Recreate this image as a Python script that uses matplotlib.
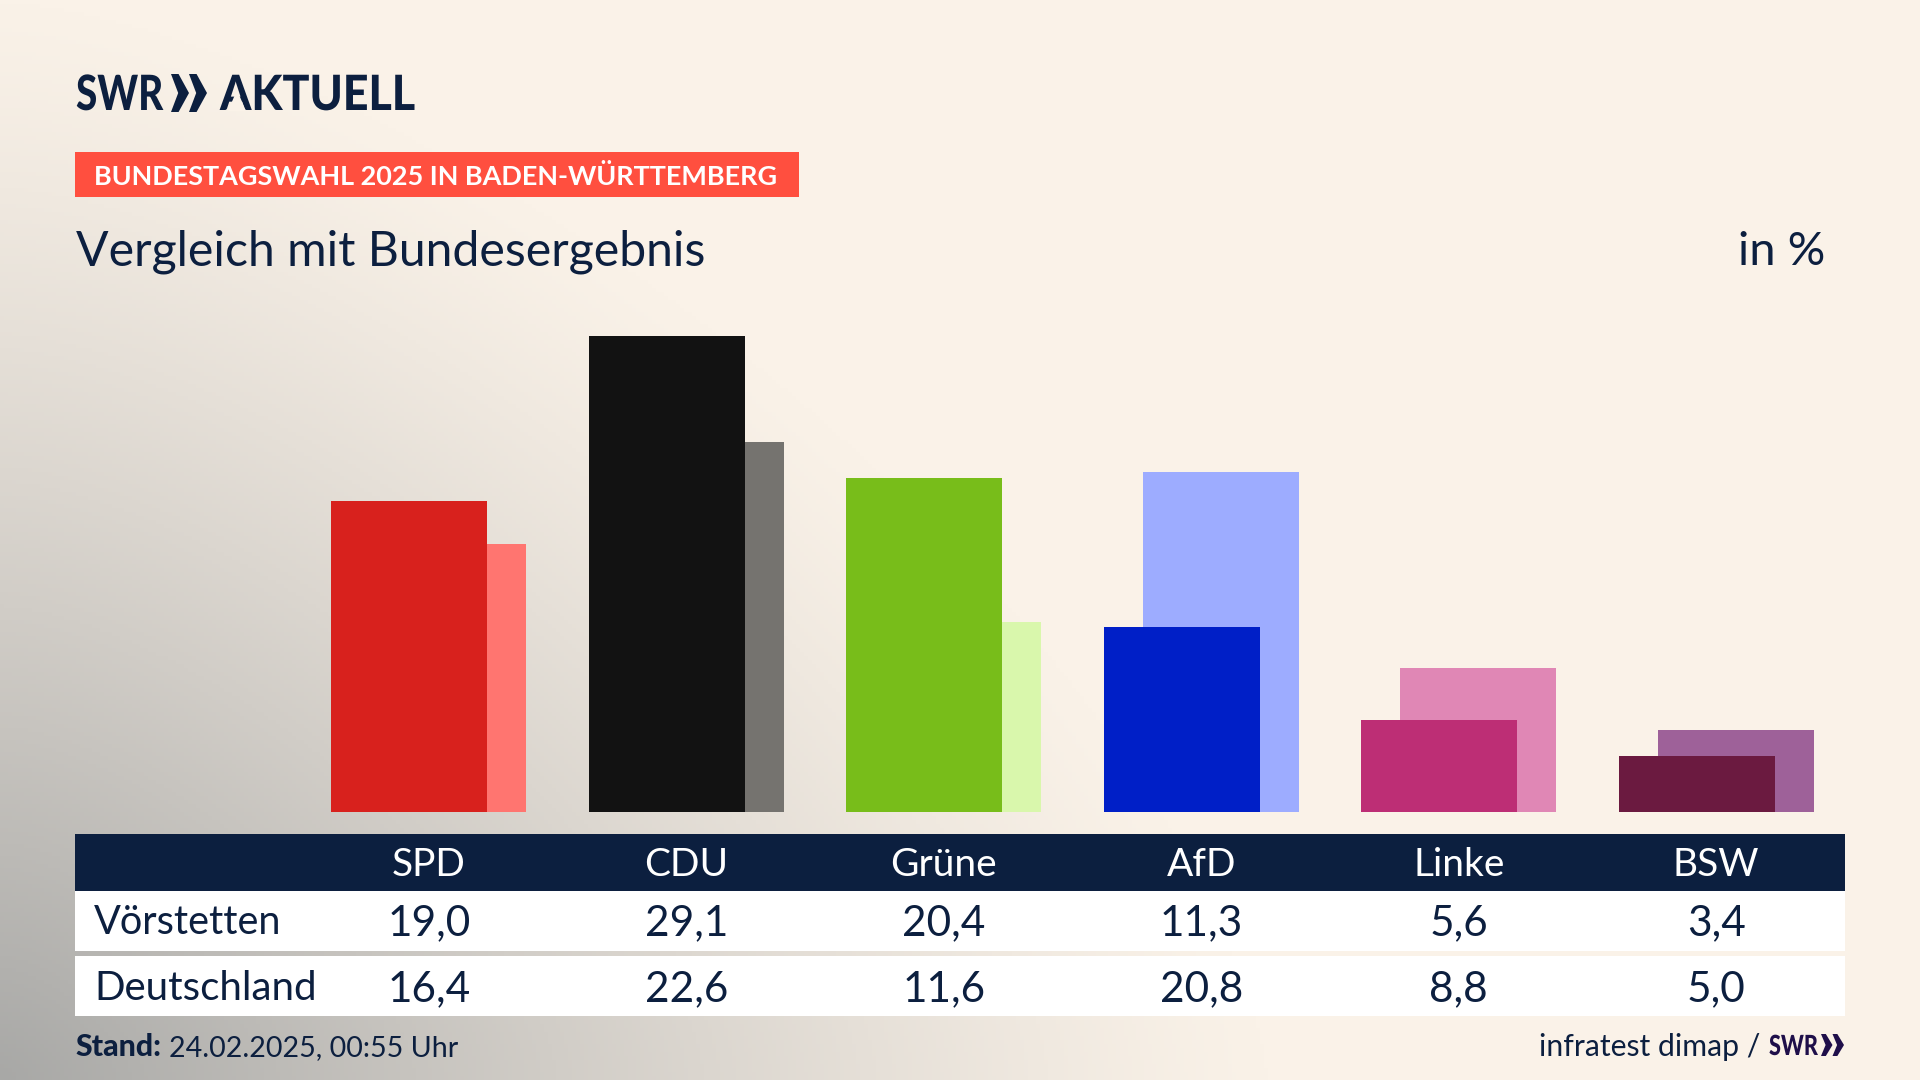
import numpy as np
import matplotlib
matplotlib.use("Agg")
import matplotlib.pyplot as plt
from matplotlib.patches import Rectangle, Polygon
from matplotlib.patheffects import AbstractPathEffect
from matplotlib.transforms import Affine2D, blended_transform_factory

# Data
parties = ["SPD", "CDU", "Grüne", "AfD", "Linke", "BSW"]
voerstetten = [19.0, 29.1, 20.4, 11.3, 5.6, 3.4]
deutschland = [16.4, 22.6, 11.6, 20.8, 8.8, 5.0]
colors_main = ["#d8211d", "#121212", "#78bd1a", "#001fc7", "#bd2e75", "#6b1a40"]
colors_light = ["#ff7570", "#75736f", "#d9f7ac", "#9dacff", "#e087b5", "#9e6199"]
row_labels = ["Vörstetten", "Deutschland"]

NAVY = "#0c1f3f"
CREAM = "#faf2e8"
W, H = 1920, 1080

plt.rcParams["font.family"] = ["Lato", "DejaVu Sans"]
fig = plt.figure(figsize=(W / 100, H / 100), dpi=100)


# Pixel helpers, y counted from the top like in the screenshot
def fx(x):
	return x / W


def fy(y):
	return 1 - y / H


def box(x0, y0, x1, y1, color):
	fig.add_artist(Rectangle((fx(x0), fy(y1)), (x1 - x0) / W, (y1 - y0) / H,
		transform=fig.transFigure, facecolor=color, edgecolor="none"))


def poly(pts, color, zorder=1):
	fig.add_artist(Polygon([(fx(a), fy(b)) for a, b in pts],
		transform=fig.transFigure, facecolor=color, edgecolor="none", zorder=zorder))


def chevrons(x0, y0, y1, w, color):
	# two chevrons of the SWR mark
	ym = (y0 + y1) / 2
	for k in range(2):
		left = x0 + k * w
		poly([(left, y0), (left + w * 0.42, y0), (left + w, ym),
			(left + w * 0.42, y1), (left, y1), (left + w * 0.4, ym)], color)


# Squeezes a text sideways around its left edge, the logo face is narrower than Lato
class Squeeze(AbstractPathEffect):
	def __init__(self, x_px, sx):
		super().__init__()
		self.x_px = x_px
		self.sx = sx

	def draw_path(self, renderer, gc, tpath, affine, rgbFace=None):
		squeeze = Affine2D().translate(-self.x_px, 0).scale(self.sx, 1).translate(self.x_px, 0)
		renderer.draw_path(gc, tpath, affine + squeeze, rgbFace)


def logo_text(x_px, base, s, size, sx, color):
	t = fig.text(fx(x_px), fy(base), s, fontsize=size, fontweight="black", color=color, va="baseline")
	t.set_path_effects([Squeeze(x_px, sx)])


# Background: cream with a grey glow out of the lower left corner
yy, xx = np.mgrid[0:1:270j, 0:1:480j]
dist = (np.abs(xx / 0.66) ** 1.5 + np.abs((1 - yy) / 1.0) ** 1.5) ** (1 / 1.5)
glow = np.clip(1 - dist, 0, 1) ** 1.2
cream = np.array([250, 242, 232]) / 255
grey = np.array([168, 168, 166]) / 255
bg = cream + (grey - cream) * glow[..., None]
bg_ax = fig.add_axes([0, 0, 1, 1], zorder=-1)
bg_ax.imshow(bg, aspect="auto", extent=[0, 1, 0, 1], origin="upper")
bg_ax.axis("off")

# Bars: axes runs over the six table columns, 812px is the zero line
px_per_pct = 16.37
ax = fig.add_axes([fx(300), fy(812), (1845 - 300) / W, 30 * px_per_pct / H])
ax.patch.set_alpha(0)
x = np.arange(len(parties))
bar_w = 0.606
shift = 0.0757
ax.bar(x + shift, deutschland, width=bar_w, color=colors_light, zorder=2)
ax.bar(x - shift, voerstetten, width=bar_w, color=colors_main, zorder=3)
ax.set_xlim(-0.5, 5.5)
ax.set_ylim(0, 30)
ax.axis("off")

# Logo
logo_text(76, 110, "SWR", 35, 0.795, NAVY)
chevrons(171, 74, 112, 18, NAVY)
logo_text(220, 110, "AKTUELL", 35, 0.92, NAVY)
# the A of the logo has no crossbar
poly([(228, 111), (246, 111), (237, 90)], CREAM, zorder=5)

# Headings
box(75, 152, 799, 197, "#ff4f3f")
fig.text(fx(94), fy(185), "BUNDESTAGSWAHL 2025 IN BADEN-WÜRTTEMBERG", fontsize=19.45,
	fontweight="bold", color="white", va="baseline")
fig.text(fx(76), fy(265), "Vergleich mit Bundesergebnis", fontsize=34.7, color=NAVY, va="baseline")
fig.text(fx(1825), fy(265), "in %", fontsize=33.8, color=NAVY, va="baseline", ha="right")

# Table
box(75, 834, 1845, 891, NAVY)
box(75, 891, 1845, 951, "white")
box(75, 956, 1845, 1016, "white")
col = blended_transform_factory(ax.transData, fig.transFigure)
for i, name in enumerate(parties):
	fig.text(i, fy(876), name, transform=col, ha="center", va="baseline",
		fontsize=28, color="white")
	fig.text(i, fy(935), f"{voerstetten[i]:.1f}".replace(".", ","), transform=col,
		ha="center", va="baseline", fontsize=30.5, color=NAVY)
	fig.text(i, fy(1001), f"{deutschland[i]:.1f}".replace(".", ","), transform=col,
		ha="center", va="baseline", fontsize=30.5, color=NAVY)
fig.text(fx(94), fy(934), row_labels[0], fontsize=28.6, color=NAVY, va="baseline")
fig.text(fx(94), fy(1000), row_labels[1], fontsize=29, color=NAVY, va="baseline")

# Footer
fig.text(fx(75), fy(1056), "Stand:", fontsize=21.8, fontweight="black", color=NAVY, va="baseline")
fig.text(fx(169), fy(1056), "24.02.2025, 00:55 Uhr", fontsize=20.6, color=NAVY, va="baseline")
fig.text(fx(1760), fy(1056), "infratest dimap /", fontsize=21.7, color=NAVY, va="baseline", ha="right")
logo_text(1769, 1055, "SWR", 20, 0.78, "#1f0f4a")
chevrons(1821, 1034, 1056, 11.5, "#1f0f4a")

fig.savefig("out.png", dpi=100)
